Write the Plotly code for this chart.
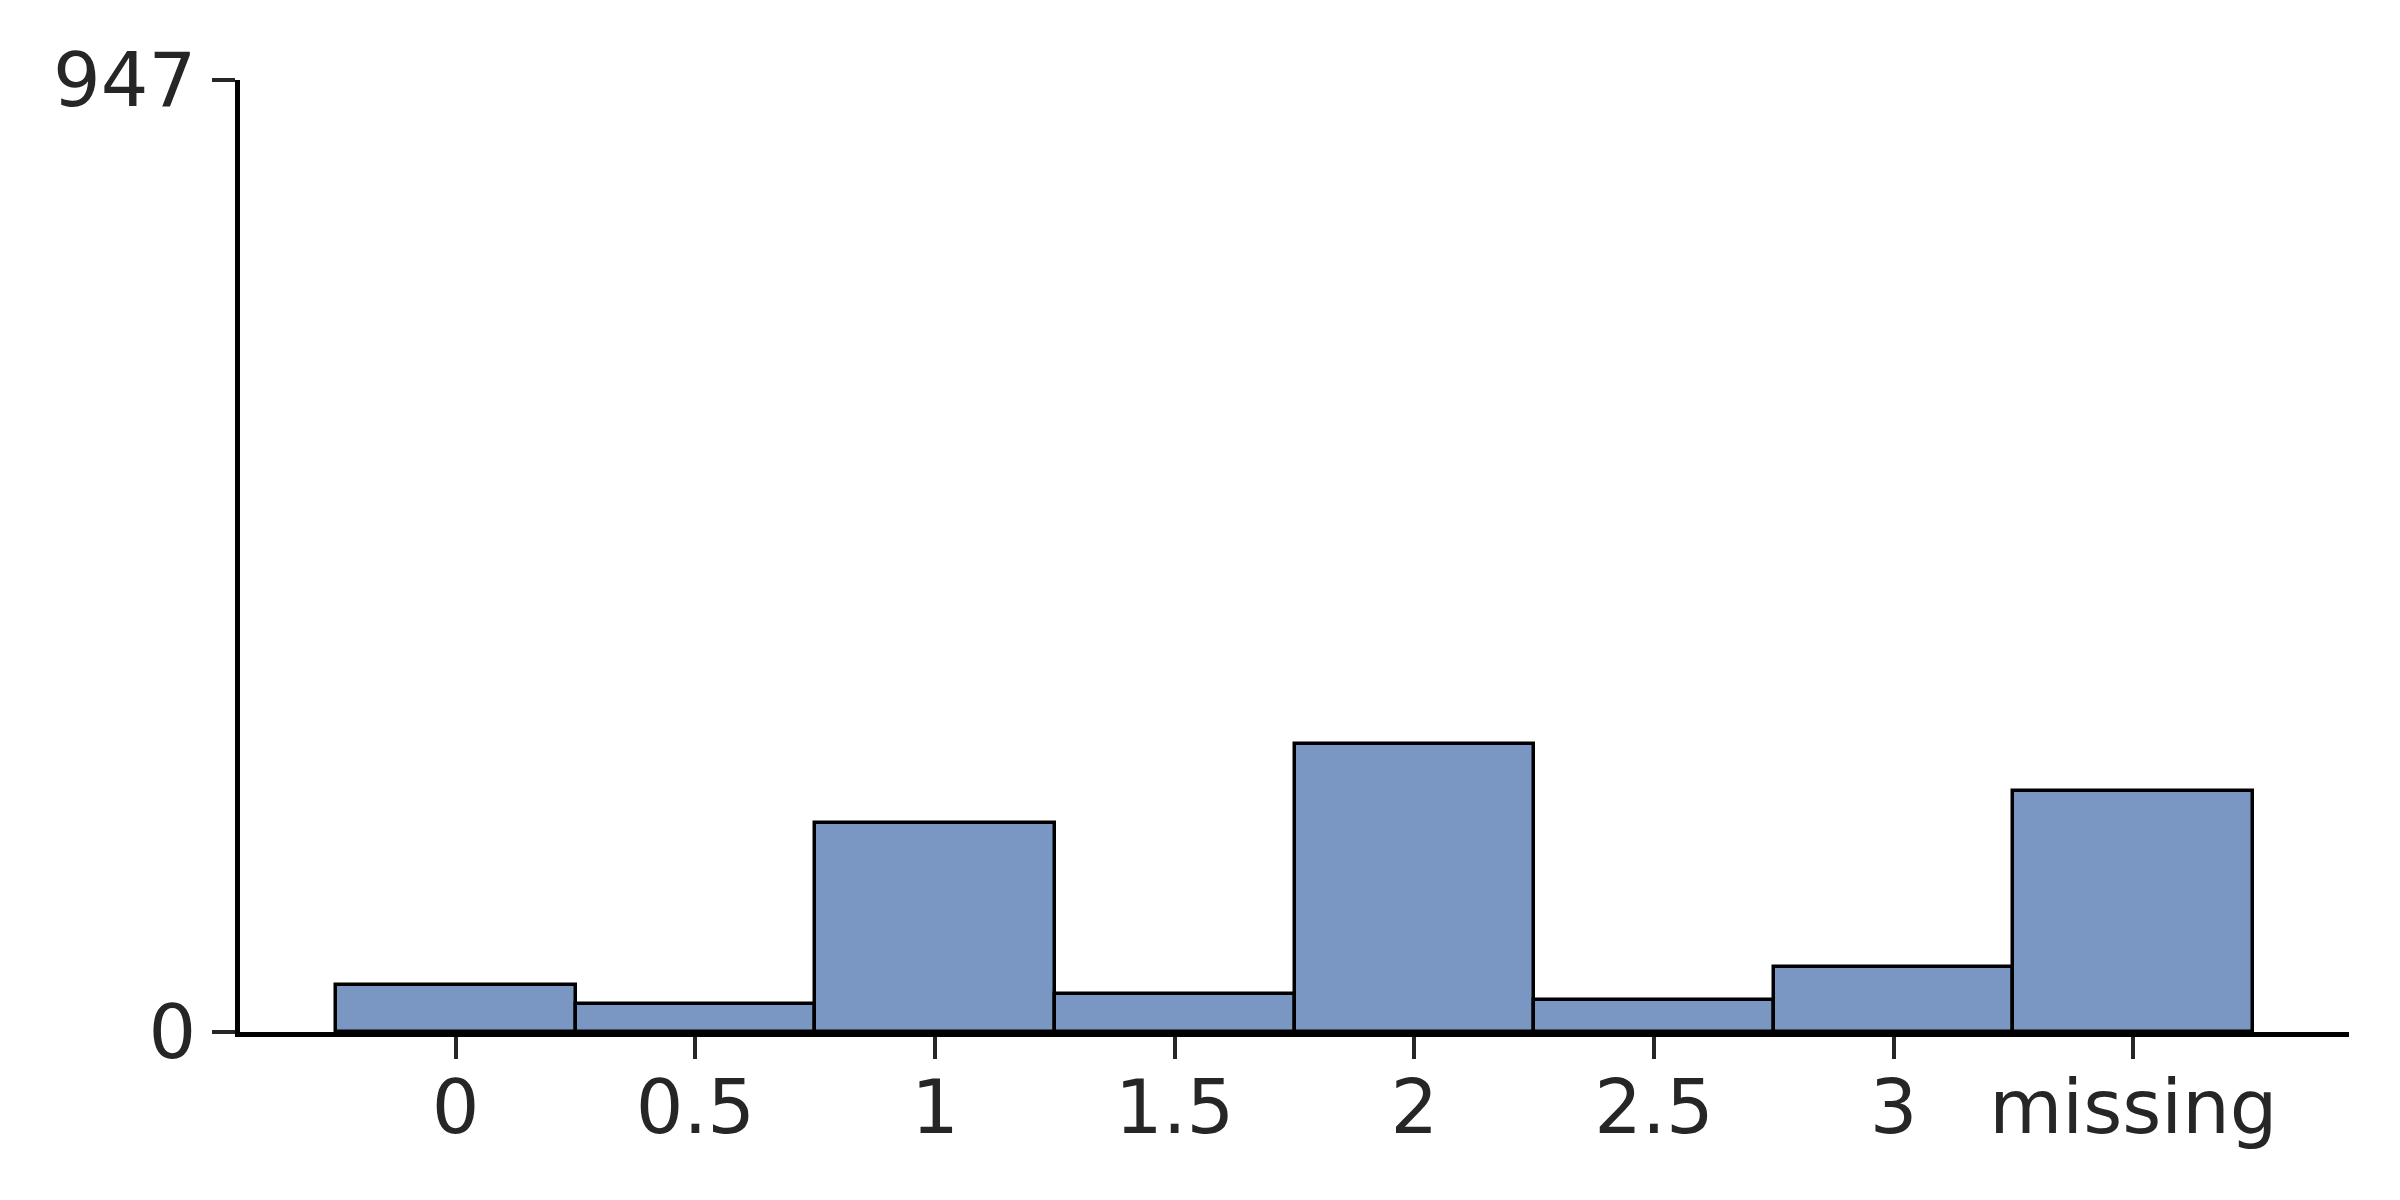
"""Histogram of a discrete variable with a 'missing' bin."""

import plotly.graph_objects as go

categories = ["0", "0.5", "1", "1.5", "2", "2.5", "3", "missing"]
counts = [47, 28, 208, 38, 286, 32, 65, 240]
y_max = 947

BAR_COLOR = "#7A97C4"
TEXT_COLOR = "#262626"
FONT = "DejaVu Sans"

fig = go.Figure(
    go.Bar(
        x=categories,
        y=counts,
        marker=dict(color=BAR_COLOR, line=dict(color="black", width=3.5)),
        width=1.0,
    )
)

# the page has a small body margin, so the figure is nudged to compensate
fig.update_layout(
    width=2400,
    height=1200,
    margin=dict(l=232, r=59, t=72, b=176),
    paper_bgcolor="white",
    plot_bgcolor="white",
    showlegend=False,
    bargap=0,
    font=dict(family=FONT, size=75, color=TEXT_COLOR),
)

fig.update_xaxes(
    type="category",
    range=[-0.9, 7.9],
    showgrid=False,
    zeroline=False,
    showline=True,
    linecolor="black",
    linewidth=4.5,
    ticks="outside",
    ticklen=22,
    tickwidth=3.5,
    tickcolor="#262626",
    ticklabelstandoff=-16,
)

fig.update_yaxes(
    range=[0, y_max],
    tickvals=[0, y_max],
    ticktext=["0", str(y_max)],
    showgrid=False,
    zeroline=False,
    showline=True,
    linecolor="black",
    linewidth=4.5,
    ticks="outside",
    ticklen=23,
    tickwidth=3.5,
    tickcolor="#262626",
    ticklabelstandoff=1,
)

fig.write_html("out.html")
